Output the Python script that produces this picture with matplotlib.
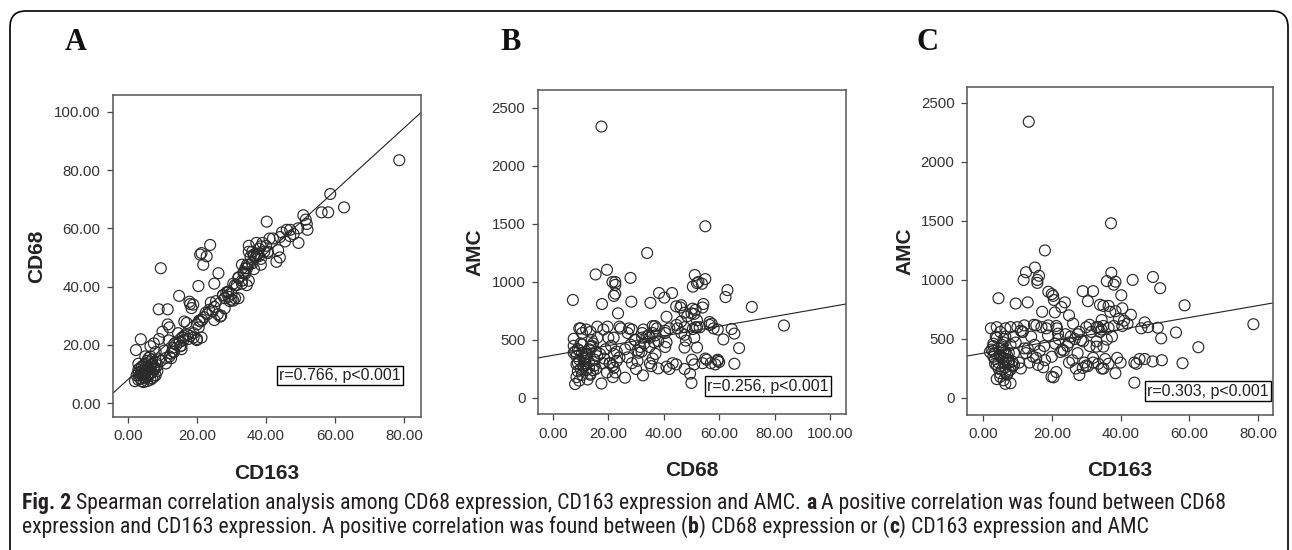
import matplotlib
matplotlib.use("Agg")
import matplotlib.pyplot as plt
from matplotlib.patches import FancyBboxPatch
from matplotlib.ticker import FormatStrFormatter

# one entry per patient: CD163, CD68, AMC
cd163 = [13.3, 37.2, 18.0, 4.5, 78.6, 58.6, 62.6, 58.0, 56.1, 51.8,
         51.5, 50.8, 49.4, 52.0, 49.3, 47.0, 48.0, 46.0, 44.6, 44.0,
         47.0, 45.5, 42.0, 43.5, 40.5, 43.0, 38.5, 44.0, 40.2, 37.3,
         36.0, 38.5, 38.0, 35.0, 37.0, 38.5, 40.5, 34.0, 36.5, 32.0,
         29.0, 30.5, 33.0, 34.5, 33.5, 35.0, 36.5, 38.0, 39.5, 41.0,
         34.0, 36.0, 37.5, 33.0, 35.0, 32.0, 33.5, 30.5, 29.0, 31.0,
         28.5, 31.5, 27.5, 35.5, 36.5, 34.5, 32.0, 30.0, 40.0, 39.0,
         25.0, 23.8, 20.9, 22.8, 21.8, 21.3, 26.2, 9.5, 20.4, 14.8,
         8.9, 11.5, 17.8, 18.9, 18.4, 2.3, 3.7, 26.7, 25.0, 24.0,
         24.5, 25.5, 29.1, 30.0, 28.0, 27.5, 29.5, 31.0, 34.4, 35.0,
         33.0, 23.0, 22.0, 21.0, 20.0, 22.5, 21.5, 23.5, 26.0, 28.0,
         20.5, 19.9, 21.3, 27.0, 25.0, 15.1, 12.5, 11.8, 15.8, 16.3,
         19.0, 20.0, 13.0, 17.2, 20.6, 19.0, 17.0, 15.5, 12.0, 11.0,
         14.0, 15.0, 16.5, 14.5, 13.5, 16.0, 17.5, 18.0, 15.5, 13.0,
         12.5, 10.5, 11.0, 9.5, 10.0, 11.5, 12.0, 9.0, 7.5, 6.5,
         8.0, 6.0, 3.0, 3.5, 4.0, 4.5, 5.0, 5.5, 6.0, 6.5,
         7.0, 7.5, 8.0, 5.0, 4.0, 3.0, 6.0, 6.5, 7.0, 5.5,
         4.5, 3.5, 8.5, 8.0, 5.0, 6.5, 7.0, 5.5, 4.5, 2.5,
         3.0, 7.5, 6.0, 8.5, 9.0, 5.5, 4.0, 6.0, 7.0, 3.5,
         5.0, 6.5, 8.0, 2.0, 4.0, 6.5, 7.5, 3.0, 5.0, 15.8]
cd68 = [17.5, 55.0, 34.0, 7.2, 83.4, 71.8, 67.2, 65.5, 65.5, 61.5,
        63.0, 64.5, 55.0, 59.5, 60.0, 59.5, 58.0, 59.5, 58.6, 57.0,
        57.3, 55.5, 56.5, 52.5, 52.0, 48.5, 49.5, 50.0, 62.3, 51.2,
        52.0, 53.8, 50.5, 54.0, 50.0, 47.5, 51.5, 44.5, 46.0, 43.0,
        38.3, 35.2, 42.0, 46.3, 45.0, 47.5, 50.5, 53.0, 52.0, 56.5,
        46.3, 48.0, 51.0, 47.5, 52.0, 43.2, 44.5, 41.0, 38.0, 40.5,
        38.0, 40.5, 37.0, 50.2, 51.0, 47.5, 36.0, 35.5, 54.0, 55.0,
        41.0, 54.3, 51.0, 50.4, 47.5, 51.5, 44.6, 46.3, 40.2, 36.8,
        32.2, 32.2, 34.8, 33.8, 32.6, 18.2, 21.9, 29.7, 33.0, 34.5,
        31.5, 35.0, 36.5, 37.5, 36.0, 37.0, 35.0, 36.0, 40.5, 42.0,
        41.0, 30.5, 29.5, 28.0, 27.0, 31.0, 28.5, 32.0, 30.5, 32.5,
        26.0, 21.6, 22.5, 30.0, 28.5, 19.5, 15.4, 21.5, 22.5, 28.0,
        22.5, 22.0, 17.7, 23.5, 28.3, 24.0, 27.5, 19.7, 16.0, 13.6,
        20.0, 21.0, 23.0, 24.0, 20.5, 21.5, 22.0, 23.0, 18.5, 19.0,
        17.0, 18.0, 15.5, 14.5, 24.5, 27.0, 26.0, 22.0, 20.5, 19.5,
        17.5, 14.0, 8.0, 9.5, 11.0, 10.0, 12.0, 9.0, 11.5, 13.0,
        10.5, 12.5, 14.0, 8.5, 7.5, 10.5, 9.5, 8.0, 15.0, 14.5,
        13.0, 12.0, 11.0, 9.5, 10.5, 12.0, 13.5, 11.0, 9.0, 9.5,
        11.5, 9.0, 15.5, 13.0, 15.0, 7.5, 12.5, 10.0, 8.5, 8.5,
        13.5, 16.0, 12.0, 7.5, 10.0, 10.5, 11.5, 13.5, 16.0, 22.5]
amc = [2340, 1480, 1250, 845, 625, 785, 430, 295, 555, 505,
       930, 595, 1025, 320, 310, 330, 600, 590, 290, 300,
       640, 330, 630, 1000, 610, 705, 210, 130, 870, 1060,
       990, 985, 960, 780, 730, 735, 760, 790, 780, 905,
       905, 820, 600, 660, 600, 610, 595, 610, 670, 655,
       560, 495, 520, 435, 435, 300, 290, 270, 255, 440,
       490, 560, 540, 330, 290, 250, 340, 275, 300, 340,
       700, 810, 725, 770, 545, 610, 630, 800, 865, 620,
       520, 560, 440, 530, 590, 590, 520, 500, 470, 540,
       440, 520, 480, 600, 560, 380, 300, 620, 580, 250,
       480, 410, 500, 460, 350, 390, 590, 400, 320, 195,
       175, 180, 220, 250, 300, 1105, 1065, 1000, 975, 1035,
       900, 880, 810, 730, 830, 615, 600, 615, 615, 570,
       520, 450, 400, 350, 300, 280, 260, 320, 340, 420,
       380, 300, 250, 470, 600, 560, 420, 380, 300, 220,
       125, 500, 400, 330, 280, 250, 350, 420, 300, 260,
       200, 380, 450, 180, 510, 460, 150, 120, 330, 240,
       420, 380, 270, 600, 560, 590, 200, 340, 300, 410,
       350, 230, 400, 310, 280, 450, 160, 470, 360, 290,
       210, 520, 240, 390, 600, 390, 320, 440, 360, 1000]

# regression lines as printed in the figure: (intercept, slope)
fit_a = (8.1, 1.08)
fit_b = (368.0, 4.18)
fit_c = (379.0, 5.05)

stats = ["r=0.766, p<0.001", "r=0.256, p<0.001", "r=0.303, p<0.001"]

W, H = 1292, 550
fig = plt.figure(figsize=(W / 100, H / 100), dpi=100)

# background axes in pixel units for the frame, letters and caption
bg = fig.add_axes([0, 0, 1, 1])
bg.set_xlim(0, W)
bg.set_ylim(H, 0)
bg.axis("off")
bg.add_patch(FancyBboxPatch((10, 11), 1278, 620, boxstyle="round,pad=0,rounding_size=16",
                            fc="white", ec="black", lw=1.2))

for letter, xc in [("A", 76), ("B", 511), ("C", 927)]:
    bg.text(xc, 42, letter, ha="center", va="center", family="Liberation Serif",
            weight="bold", fontsize=22, color="#111")

panels = [
    dict(px=(113, 95, 421, 417), x=cd163, y=cd68, fit=fit_a, xlim=(-4.35, 84.9), ylim=(-4.8, 105.8),
         xt=[0, 20, 40, 60, 80], yt=[0, 20, 40, 60, 80, 100], xl="CD163", yl="CD68",
         xf="%.2f", yf="%.2f", st=(0.737, 0.129), ylc=-0.247, xlc=-0.174),
    dict(px=(538, 90, 846, 414), x=cd68, y=amc, fit=fit_b, xlim=(-5.4, 105.8), ylim=(-138, 2655),
         xt=[0, 20, 40, 60, 80, 100], yt=[0, 500, 1000, 1500, 2000, 2500], xl="CD68", yl="AMC",
         xf="%.2f", yf="%d", st=(0.747, 0.086), ylc=-0.205, xlc=-0.173),
    dict(px=(967, 87, 1273, 415), x=cd163, y=amc, fit=fit_c, xlim=(-4.65, 84.3), ylim=(-144, 2634),
         xt=[0, 20, 40, 60, 80], yt=[0, 500, 1000, 1500, 2000, 2500], xl="CD163", yl="AMC",
         xf="%.2f", yf="%d", st=(0.788, 0.072), ylc=-0.203, xlc=-0.168),
]

for p, stat in zip(panels, stats):
    l, t, r, b = p["px"]
    ax = fig.add_axes([l / W, 1 - b / H, (r - l) / W, (b - t) / H])
    ax.scatter(p["x"], p["y"], s=62, facecolors="none", edgecolors="#2a2a2a", linewidths=0.85, zorder=3)
    x0, x1 = p["xlim"]
    ax.plot([x0, x1], [p["fit"][0] + p["fit"][1] * x0, p["fit"][0] + p["fit"][1] * x1],
            color="#222", lw=0.8, zorder=2)
    ax.set_xlim(p["xlim"])
    ax.set_ylim(p["ylim"])
    ax.set_xticks(p["xt"])
    ax.set_yticks(p["yt"])
    ax.xaxis.set_major_formatter(FormatStrFormatter(p["xf"]))
    ax.yaxis.set_major_formatter(FormatStrFormatter(p["yf"]))
    ax.tick_params(direction="out", length=4, width=0.9, color="#444", labelsize=10.8,
                   labelcolor="#333", pad=5)
    for tl in ax.get_xticklabels() + ax.get_yticklabels():
        tl.set_family("Liberation Sans")
    for sp in ax.spines.values():
        sp.set_color("#555")
        sp.set_linewidth(1.1)
    ax.set_xlabel(p["xl"], family="Liberation Sans", weight="bold", fontsize=15, color="#222")
    ax.set_ylabel(p["yl"], family="Liberation Sans", weight="bold", fontsize=15, color="#222")
    ax.xaxis.set_label_coords(0.5, p["xlc"])
    ax.yaxis.set_label_coords(p["ylc"], 0.5)
    ax.xaxis.label.set_va("center")
    ax.yaxis.label.set_va("center")
    ax.text(p["st"][0], p["st"][1], stat, transform=ax.transAxes, ha="center", va="center",
            family="Liberation Sans", fontsize=11.5, color="#222", zorder=4,
            bbox=dict(boxstyle="square,pad=0.15", fc="white", ec="black", lw=1))

# caption with bold pieces inline
cap_font = ["Liberation Sans Narrow", "Roboto Condensed", "DejaVu Sans Condensed", "Liberation Sans"]
line1 = [("Fig. 2", "bold"),
         ("Spearman correlation analysis among CD68 expression, CD163 expression and AMC.", "normal"),
         ("a", "bold"), ("A positive correlation was found between CD68", "normal")]
line2 = [("expression and CD163 expression. A positive correlation was found between (", "normal"),
         ("b", "bold"), (") CD68 expression or (", "normal"), ("c", "bold"),
         (") CD163 expression and AMC", "normal")]

renderer = fig.canvas.get_renderer()


def draw_line(segs, x, y, size, gap):
    texts = []
    for s, w in segs:
        t = bg.text(x, y, s, ha="left", va="center", family=cap_font, weight=w,
                    fontsize=size, color="#231f20")
        x += t.get_window_extent(renderer).width + gap
        texts.append(t)
    return texts, x - gap


def space_width(size):
    a = bg.text(0, 0, "x x", family=cap_font, fontsize=size)
    c = bg.text(0, 0, "xx", family=cap_font, fontsize=size)
    w = a.get_window_extent(renderer).width - c.get_window_extent(renderer).width
    a.remove()
    c.remove()
    return w


size = 12
txts, end = draw_line(line1, 22, 503, size, space_width(size))
for t in txts:
    t.remove()
size = size * (1226 - 22) / (end - 22)
draw_line(line1, 22, 503, size, space_width(size))
draw_line(line2, 22, 527, size, 0)

fig.savefig("out.png", dpi=100)
